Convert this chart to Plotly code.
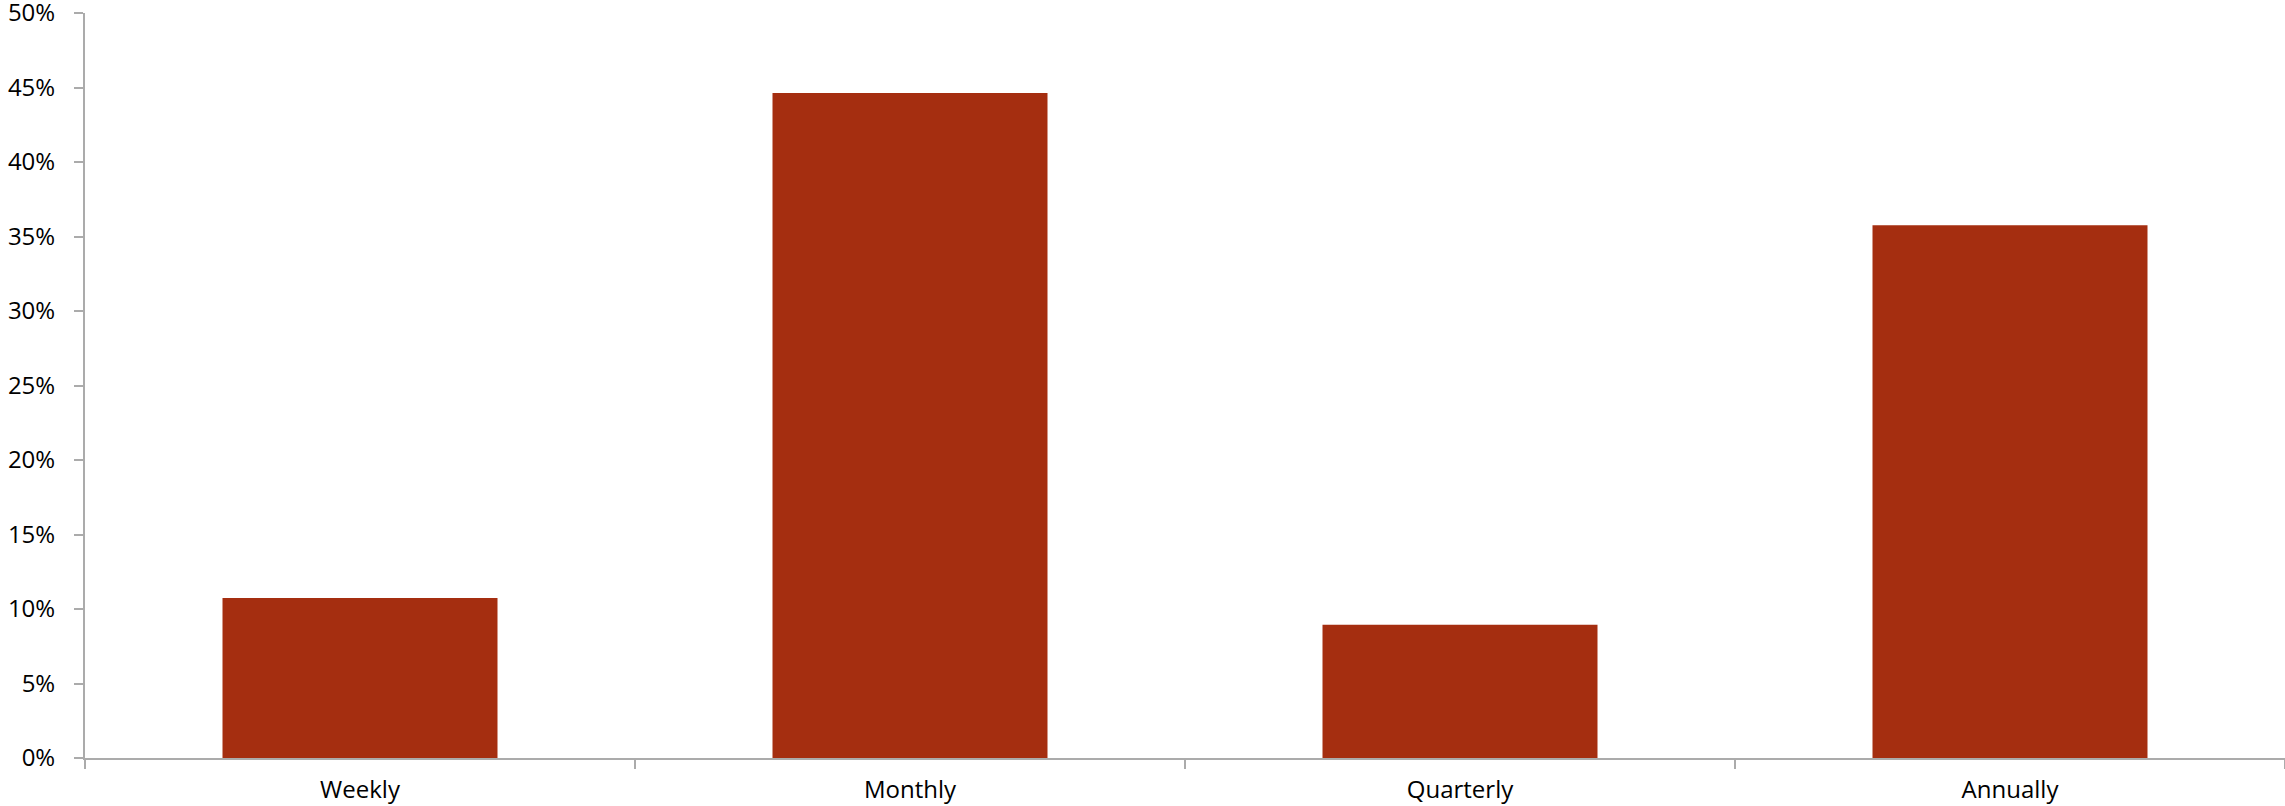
import plotly.graph_objects as go

categories = ["Weekly", "Monthly", "Quarterly", "Annually"]
values = [0.1074, 0.4463, 0.0895, 0.3575]
y_tick_vals = [0, 0.05, 0.10, 0.15, 0.20, 0.25, 0.30, 0.35, 0.40, 0.45, 0.50]
y_tick_text = ["0%", "5%", "10%", "15%", "20%", "25%", "30%", "35%", "40%", "45%", "50%"]

bar_color = "#A52E10"
axis_color = "#ABABAB"
font_family = "Open Sans, Liberation Sans, sans-serif"

fig = go.Figure(
    go.Bar(
        x=categories,
        y=values,
        marker=dict(color=bar_color, line=dict(width=0)),
        hoverinfo="skip",
    )
)

fig.update_layout(
    width=2285,
    height=806,
    margin=dict(l=85, r=0, t=13, b=48),
    paper_bgcolor="white",
    plot_bgcolor="white",
    bargap=0.5,
    showlegend=False,
    font=dict(family=font_family, size=24, color="#000000"),
)

fig.update_xaxes(
    type="category",
    range=[-0.5, 3.5],
    automargin=False,
    showline=True,
    linecolor=axis_color,
    linewidth=2,
    ticks="outside",
    tickson="boundaries",
    ticklen=9,
    tickwidth=2,
    tickcolor=axis_color,
    showgrid=False,
    zeroline=False,
    tickfont=dict(family=font_family, size=24, color="#000000"),
    ticklabelstandoff=9,
    ticklabeloverflow="allow",
)

fig.update_yaxes(
    range=[0, 0.5],
    automargin=False,
    tickvals=y_tick_vals,
    ticktext=y_tick_text,
    showline=True,
    linecolor=axis_color,
    linewidth=2,
    ticks="outside",
    ticklen=9,
    tickwidth=2,
    tickcolor=axis_color,
    showgrid=False,
    zeroline=False,
    tickfont=dict(family=font_family, size=24, color="#000000"),
    ticklabelstandoff=14,
    ticklabeloverflow="allow",
)

fig.write_html(
    "out.html",
    config={"displayModeBar": False},
    post_script="document.body.style.margin='0';document.body.style.overflow='hidden';",
)
